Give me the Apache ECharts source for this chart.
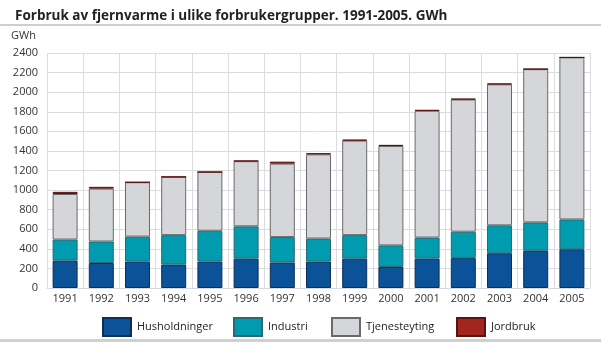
<!DOCTYPE html>
<html>
<head>
<meta charset="utf-8">
<script src="https://cdn.jsdelivr.net/npm/echarts@6/dist/echarts.min.js"></script>
<style>
  html, body { margin: 0; padding: 0; background: #fff; }
  #chart { width: 601px; height: 345px; }
</style>
</head>
<body>
<div id="chart"></div>
<script>
// District heating consumption by consumer group, GWh
const years = ['1991','1992','1993','1994','1995','1996','1997','1998','1999','2000','2001','2002','2003','2004','2005'];
const husholdninger = [280, 255, 270, 240, 270, 300, 260, 270, 300, 215, 300, 305, 355, 380, 395];
const industri      = [215, 220, 255, 300, 315, 330, 260, 235, 240, 220, 215, 270, 285, 290, 305];
const tjenesteyting = [465, 540, 555, 595, 600, 665, 750, 860, 965, 1015, 1295, 1350, 1440, 1565, 1655];
const jordbruk      = [22, 18, 0, 0, 0, 5, 20, 12, 10, 12, 8, 8, 8, 2, 0];
const seriesNames = ['Husholdninger', 'Industri', 'Tjenesteyting', 'Jordbruk'];

const FONT = '"Open Sans", "Noto Sans", sans-serif';
const chart = echarts.init(document.getElementById('chart'), null, { renderer: 'canvas' });

function barSeries(name, data, color, border) {
  return {
    name: name, type: 'bar', stack: 'total', data: data,
    barWidth: 25,
    itemStyle: { color: color, borderColor: border, borderWidth: 1 },
    emphasis: { disabled: true }
  };
}

function legendAt(name, left) {
  return {
    data: [{ name: name, icon: 'rect' }], left: left, top: 317,
    itemWidth: 28, itemHeight: 18, itemGap: 0,
    textStyle: { fontFamily: FONT, fontSize: 11, color: '#222', padding: [0, 0, 0, 1] },
    padding: 0
  };
}

chart.setOption({
  animation: false,
  title: {
    text: 'Forbruk av fjernvarme i ulike forbrukergrupper. 1991-2005. GWh',
    left: 10, top: 4,
    textStyle: { fontFamily: FONT, fontSize: 13.5, fontWeight: 'bold', color: '#222' }
  },
  graphic: [
    { type: 'rect', shape: { x: 0, y: 24, width: 601, height: 2 }, style: { fill: '#cfcfcf' }, silent: true },
    { type: 'rect', shape: { x: 0, y: 339, width: 601, height: 3 }, style: { fill: '#d0d0d0' }, silent: true },
    { type: 'text', left: 11, top: 30, style: { text: 'GWh', font: '11px ' + FONT, fill: '#333' }, silent: true }
  ],
  legend: [
    legendAt(seriesNames[0], 102),
    legendAt(seriesNames[1], 233),
    legendAt(seriesNames[2], 331),
    legendAt(seriesNames[3], 456)
  ],
  grid: { left: 47, right: 11, top: 53, bottom: 57, containLabel: false },
  xAxis: {
    type: 'category', data: years, boundaryGap: true,
    axisLine: { show: true, lineStyle: { color: '#d9d9dc', width: 1 } },
    axisTick: { show: false },
    axisLabel: { fontFamily: FONT, fontSize: 11, color: '#333', margin: 5 },
    splitLine: { show: true, interval: 0, lineStyle: { color: '#dcdcdf', width: 1 } }
  },
  yAxis: {
    type: 'value', min: 0, max: 2400, interval: 200,
    axisLine: { show: false }, axisTick: { show: false },
    axisLabel: { fontFamily: FONT, fontSize: 11, color: '#333', margin: 9, formatter: v => String(v) },
    splitLine: { show: true, lineStyle: { color: '#dcdcdf', width: 1 } }
  },
  series: [
    barSeries(seriesNames[0], husholdninger, '#0b5299', '#0d2f55'),
    barSeries(seriesNames[1], industri, '#009bae', '#2f6770'),
    barSeries(seriesNames[2], tjenesteyting, '#d5d6da', '#6a6a6d'),
    barSeries(seriesNames[3], jordbruk, '#a3251f', '#5a1410')
  ]
});
</script>
</body>
</html>
